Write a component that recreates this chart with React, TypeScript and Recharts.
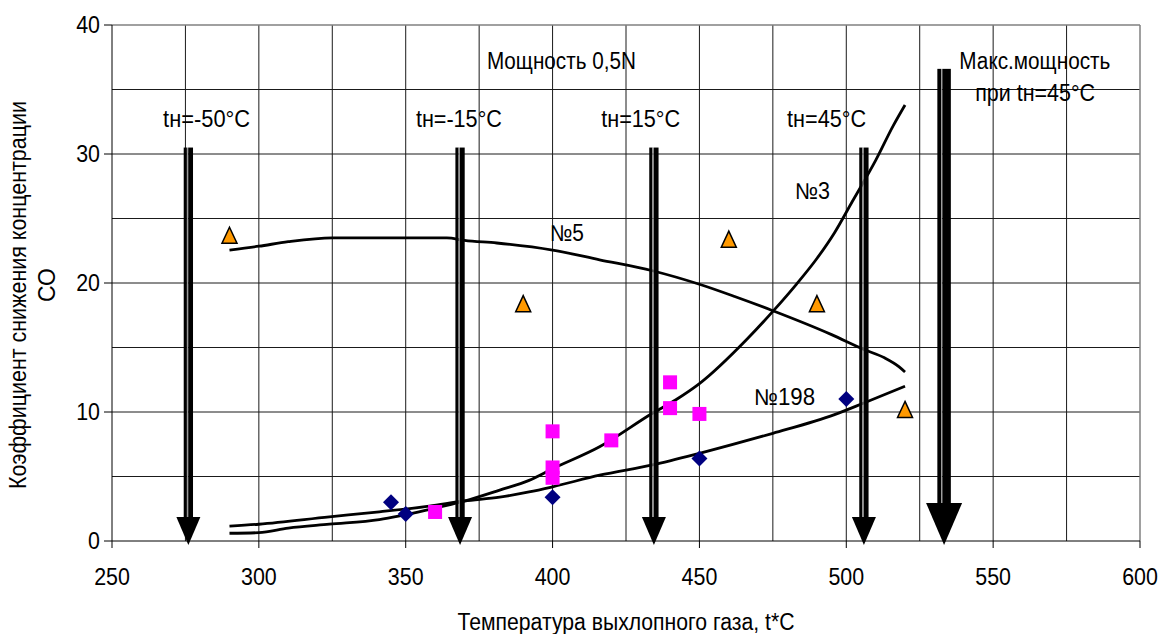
import React from "react";
import {
  ComposedChart,
  Line,
  Scatter,
  XAxis,
  YAxis,
  CartesianGrid,
  ReferenceLine,
  ReferenceDot,
} from "recharts";

// ---------- data ----------
const xTicks = [250, 300, 350, 400, 450, 500, 550, 600];
const yTicks = [0, 10, 20, 30, 40];
const xGridValues = [275, 300, 325, 350, 375, 400, 425, 450, 475, 500, 525, 550, 575];
const yGridValues = [5, 10, 15, 20, 25, 30, 35];

const curveNo5: [number, number][] = [
  [290, 22.55], [300, 22.85], [310, 23.2], [325, 23.5], [345, 23.5], [364, 23.5],
  [370, 23.3], [381, 23.1], [400, 22.55], [416, 21.8], [434, 20.95], [450, 19.9],
  [462, 18.95], [475, 17.85], [495, 16.0], [506, 14.85], [513, 14.2], [518, 13.5], [520, 13.1],
];
const curveNo3: [number, number][] = [
  [290, 0.6], [300, 0.65], [310, 1.0], [324, 1.3], [341, 1.66], [358, 2.44], [370, 3.1],
  [382, 3.95], [392, 4.7], [400, 5.6], [416, 7.3], [434, 9.9], [442, 10.95], [450, 12.2],
  [466, 15.6], [475, 17.8], [483, 19.9], [490, 21.9], [496, 23.9], [502, 26.3],
  [510, 29.5], [516, 32.2], [520, 33.8],
];
const curveNo198: [number, number][] = [
  [290, 1.15], [300, 1.3], [324, 1.87], [341, 2.26], [358, 2.7], [370, 3.1], [382, 3.4],
  [392, 3.8], [400, 4.2], [416, 5.1], [434, 5.9], [450, 6.8], [475, 8.35], [496, 9.8],
  [506, 10.7], [520, 12.0],
];
const triangles: [number, number][] = [
  [290, 23.7], [390, 18.4], [460, 23.4], [490, 18.4], [520, 10.2],
];
const squares: [number, number][] = [
  [360, 2.25], [400, 8.5], [400, 5.7], [400, 4.9], [420, 7.8], [440, 12.3], [440, 10.3], [450, 9.85],
];
const diamonds: [number, number][] = [
  [345, 3.0], [350, 2.1], [400, 3.4], [450, 6.4], [500, 11.0],
];

const arrowX = [276, 368.5, 434.5, 506, 533.3];
const arrowTop = [30.5, 30.5, 30.5, 30.5, 36.6];

const labelText = [
  "Мощность 0,5N", "tн=-50°C", "tн=-15°C", "tн=15°C", "tн=45°C",
  "№5", "№3", "№198", "Макс.мощность", "при tн=45°C",
];
const labelX = [403, 282.2, 368.1, 430, 493.3, 404.9, 488.5, 479, 564.2, 564.3];
const labelY = [36.6, 32.07, 32.07, 32.07, 32.07, 23.25, 26.5, 10.55, 36.6, 34.14];

const xTitle = "Температура выхлопного газа, t*C";
const yTitleLines = ["Коэффициент снижения концентрации", "СО"];

// ---------- styles ----------
const FONT = "'Liberation Sans', Arial, sans-serif";
const FS = 23;
const labelWidth = [149, 87, 86, 79, 79, 34, 35, 61, 151, 120];
const heavyArrow = [false, false, false, false, true];

const toPts = (arr: [number, number][]) => arr.map(([x, y]) => ({ x, y }));

const XTick = (props: any) => {
  const { x, payload } = props;
  const s = String(payload.value);
  return (
    <text
      x={x}
      y={585}
      textAnchor="middle"
      fontFamily={FONT}
      fontSize={FS}
      fill="#000"
      textLength={s.length * 11.9}
      lengthAdjust="spacingAndGlyphs"
    >
      {s}
    </text>
  );
};

const YTick = (props: any) => {
  const { x, y, payload } = props;
  const s = String(payload.value);
  return (
    <text
      x={x}
      y={y + 8}
      textAnchor="end"
      fontFamily={FONT}
      fontSize={FS}
      fill="#000"
      textLength={s.length * 11.9}
      lengthAdjust="spacingAndGlyphs"
    >
      {s}
    </text>
  );
};

const XTitle = (props: any) => {
  const vb = props.viewBox || { x: 112, y: 541, width: 1028, height: 50 };
  return (
    <text
      x={vb.x + vb.width / 2}
      y={vb.y + 89}
      textAnchor="middle"
      fontFamily={FONT}
      fontSize={FS}
      fill="#000"
      textLength={337}
      lengthAdjust="spacingAndGlyphs"
    >
      {xTitle}
    </text>
  );
};

const YTitle = (props: any) => {
  const vb = props.viewBox || { x: 42, y: 25, width: 70, height: 516 };
  const cy1 = vb.y + vb.height / 2 + 12;
  const cy2 = vb.y + vb.height / 2 + 2;
  const x1 = vb.x - 16;
  const x2 = vb.x + 13;
  return (
    <g>
      <text
        x={x1}
        y={cy1}
        transform={`rotate(-90, ${x1}, ${cy1})`}
        textAnchor="middle"
        fontFamily={FONT}
        fontSize={FS}
        fill="#000"
        textLength={388}
        lengthAdjust="spacingAndGlyphs"
      >
        {yTitleLines[0]}
      </text>
      <text
        x={x2}
        y={cy2}
        transform={`rotate(-90, ${x2}, ${cy2})`}
        textAnchor="middle"
        fontFamily={FONT}
        fontSize={FS}
        fill="#000"
      >
        {yTitleLines[1]}
      </text>
    </g>
  );
};

const TriangleShape = (p: any) => {
  const { cx, cy } = p;
  if (cx == null || cy == null) return <g />;
  return (
    <polygon
      points={`${cx},${cy - 8} ${cx + 7.5},${cy + 8} ${cx - 7.5},${cy + 8}`}
      fill="#FF9900"
      stroke="#000"
      strokeWidth={1.5}
    />
  );
};
const SquareShape = (p: any) => {
  const { cx, cy } = p;
  if (cx == null || cy == null) return <g />;
  return <rect x={cx - 7} y={cy - 7} width={14} height={14} fill="#FF00FF" />;
};
const DiamondShape = (p: any) => {
  const { cx, cy } = p;
  if (cx == null || cy == null) return <g />;
  return (
    <polygon
      points={`${cx},${cy - 8} ${cx + 8},${cy} ${cx},${cy + 8} ${cx - 8},${cy}`}
      fill="#000080"
    />
  );
};

const makeArrow = (heavy: boolean) => (p: any) => {
  const { x1, y1, x2, y2 } = p;
  if (x1 == null || y1 == null) return <g />;
  const cx = (x1 + x2) / 2;
  const top = Math.min(y1, y2);
  const tip = Math.max(y1, y2) + 4;
  const headW = heavy ? 36 : 24;
  const headH = heavy ? 42 : 28;
  const lw = heavy ? 3.7 : 3.2;
  const gap = 1.3;
  const rw = heavy ? 8.5 : 4.8;
  const total = lw + gap + rw;
  const sx = cx - total / 2;
  const shaftBottom = tip - headH + 1;
  return (
    <g>
      <rect x={sx} y={top} width={lw} height={shaftBottom - top} fill="#000" />
      <rect x={sx + lw} y={top} width={gap} height={shaftBottom - top} fill="#9a9a9a" />
      <rect x={sx + lw + gap} y={top} width={rw} height={shaftBottom - top} fill="#000" />
      <polygon
        points={`${cx - headW / 2},${tip - headH} ${cx + headW / 2},${tip - headH} ${cx},${tip}`}
        fill="#000"
      />
    </g>
  );
};

const makeLabel = (i: number) => (p: any) => {
  const { cx, cy } = p;
  if (cx == null || cy == null) return <g />;
  return (
    <text
      x={cx}
      y={cy}
      textAnchor="middle"
      fontFamily={FONT}
      fontSize={FS}
      fill="#000"
      textLength={labelWidth[i]}
      lengthAdjust="spacingAndGlyphs"
    >
      {labelText[i]}
    </text>
  );
};

export default function App() {
  return (
    <div>
      <style>{"body{margin:0;overflow:hidden;background:#fff}"}</style>
      <ComposedChart
        width={1162}
        height={634}
        margin={{ top: 25, right: 22, bottom: 43, left: 42 }}
      >
        <CartesianGrid
          stroke="#1a1a1a"
          strokeWidth={1}
          horizontalValues={yGridValues}
          verticalValues={xGridValues}
        />
        <XAxis
          type="number"
          dataKey="x"
          domain={[250, 600]}
          ticks={xTicks}
          interval={0}
          allowDataOverflow
          height={50}
          tickSize={7}
          tickMargin={0}
          stroke="#000"
          tick={<XTick />}
          label={<XTitle />}
        />
        <YAxis
          type="number"
          dataKey="y"
          domain={[0, 40]}
          ticks={yTicks}
          interval={0}
          allowDataOverflow
          width={70}
          tickSize={8}
          tickMargin={4}
          stroke="#000"
          tick={<YTick />}
          label={<YTitle />}
        />
        <ReferenceLine y={40} stroke="#808080" strokeWidth={1.5} ifOverflow="visible" />
        <ReferenceLine x={600} stroke="#808080" strokeWidth={1.5} ifOverflow="visible" />

        <Line data={toPts(curveNo5)} dataKey="y" type="monotone" stroke="#000" strokeWidth={2.8} dot={false} isAnimationActive={false} />
        <Line data={toPts(curveNo3)} dataKey="y" type="monotone" stroke="#000" strokeWidth={2.8} dot={false} isAnimationActive={false} />
        <Line data={toPts(curveNo198)} dataKey="y" type="monotone" stroke="#000" strokeWidth={2.8} dot={false} isAnimationActive={false} />

        <Scatter data={toPts(squares)} dataKey="y" shape={SquareShape} isAnimationActive={false} />
        <Scatter data={toPts(diamonds)} dataKey="y" shape={DiamondShape} isAnimationActive={false} />
        <Scatter data={toPts(triangles)} dataKey="y" shape={TriangleShape} isAnimationActive={false} />

        {arrowX.map((ax, i) => (
          <ReferenceLine
            key={"arrow" + i}
            segment={[{ x: ax, y: arrowTop[i] }, { x: ax, y: 0 }]}
            ifOverflow="visible"
            shape={makeArrow(heavyArrow[i])}
          />
        ))}

        {labelText.map((t, i) => (
          <ReferenceDot
            key={"lbl" + i}
            x={labelX[i]}
            y={labelY[i]}
            r={0}
            ifOverflow="visible"
            shape={makeLabel(i)}
          />
        ))}
      </ComposedChart>
    </div>
  );
}
